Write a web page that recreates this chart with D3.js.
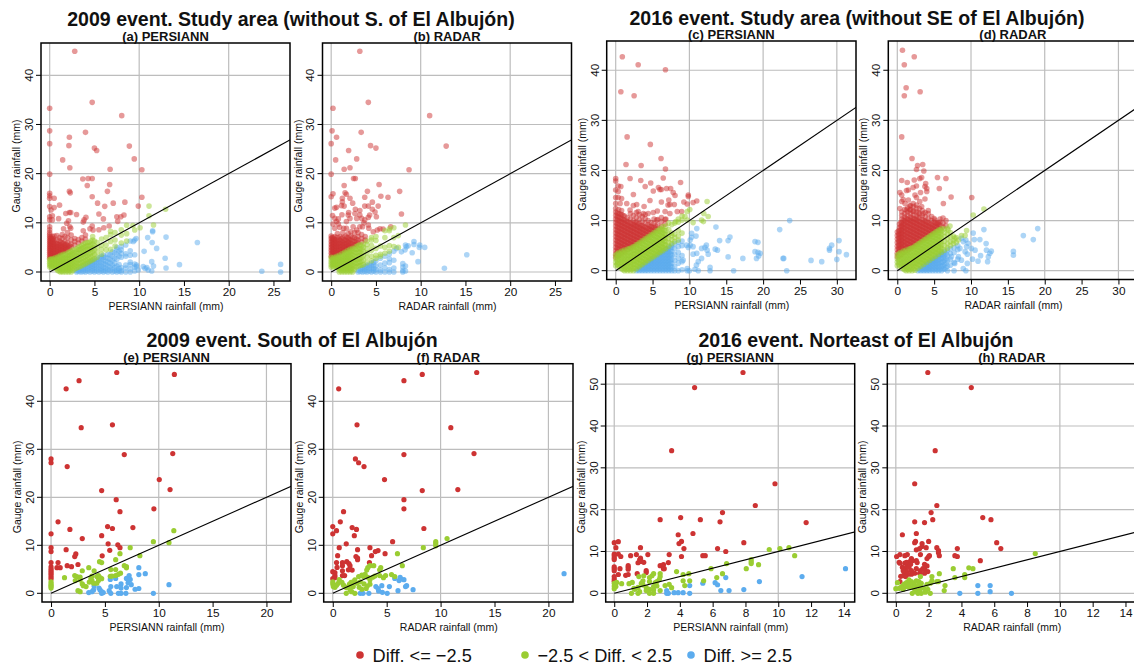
<!DOCTYPE html>
<html><head><meta charset="utf-8">
<script src="https://cdn.jsdelivr.net/npm/d3@7/dist/d3.min.js"></script>
<style>html,body{margin:0;padding:0;background:#fff;overflow:hidden}svg{display:block}text{font-family:"Liberation Sans",Arial,sans-serif;fill:#111}</style>
</head><body><svg id="c" width="1134" height="668"></svg>
<script>
// Every row is [x, y, y, ...]: one estimated x reading and the gauge readings seen at it.
const aRed=[[2.8,44.9],[4.75,34.5],[0,33.3],[8.05,31.8],[0,28.7],[4,28.4],[2.2,27.4],[2.15,25.7],[8.9,25.6],[5,25.2],[5.25,24.7],[0,26.1],[1.45,22.8],[9.45,23],[2.25,21.2],[6.75,20.9],[10.3,20.8],[0,19.9],[3.7,18.9],[4.3,19],[4.75,19],[6.7,17.8],[4.2,17.6],[2.2,16.4],[2.3,16.1],[6.45,16.4],[4.75,15.3],[10.3,15.2],[.5,15],[0,16,15.5,15,13.3,11.25,10.6],[7.1,14],[5.35,14],[8.4,14.2],[1.1,13.6],[6.15,13.35],[9.9,13.4],[.5,13.1],[.15,12.6],[2.2,12.1],[2.35,12.1,8.9],[5.5,11.8],[1.8,11.9],[3,11.7],[4.05,11.1],[3.85,10.6],[8.3,11.6],[7.95,11.25],[7.5,11.25],[6,10.8],[1,10.85],[.3,11.45,10.6],[2.1,10.4],[1.9,9.9],[7.6,10.3],[3.75,10.15,8.4],[6.65,9.35],[1.55,8.8],[2.25,9.2],[4.75,9.35],[6.05,9],[5.5,8.6],[4.5,8.8],[4.85,8.55],
[0,2.8,3.2,3.6,4,4.4,4.8,5.2,5.6,6,6.4,6.8,7.2,7.6,8,8.6,9.2],[.1,3,3.5,4,4.5,5,5.5,6,6.5,7],[.3,3,3.6,4.2,4.8,5.4,6,6.6,7.2],[.5,3.2,3.8,4.4,5,5.6,6.4,7.3],[.8,3.5,4,4.6,5.2,5.8,6.5,7.4],[1.1,3.8,4.3,4.9,5.6,6.3,7],[1.4,4.1,4.6,5.2,5.9,6.8,7.6],[1.7,4.4,5,5.5,6.2,7.2],[2,4.7,5.3,6,7,8],[2.4,5.1,5.7,6.5,7.5],[2.8,5.5,6.2,6.8],[3.2,5.9,6.6],[3.6,6.3,7],[4,6.7,7.5],
[.2,2.9,3.3,3.8,4.3,4.8,5.3,5.8,6.3,6.8],[.4,3.2,3.7,4.2,4.7,5.2,5.7,6.2,6.8],[.65,3.3,3.8,4.3,4.8,5.3,5.8],[.95,3.6,4.1,4.6,5.1,5.6],[1.25,3.9,4.4,4.9,5.4,6],[1.55,4.2,4.7,5.2,5.8],[1.85,4.5,5,5.6],[2.2,4.9,5.4]];
const aGreen=[[0,1,1.4,1.8,2.2,2.6],[.3,.9,1.3,1.8,2.3,2.7],[.6,.9,1.4,1.9,2.4,2.9],[.9,.3,.9,1.5,2,2.5,3.1],[1.2,0,.5,1,1.6,2.2,2.8,3.4],[1.5,0,.5,1.1,1.7,2.3,2.9,3.6],[1.8,0,.6,1.2,1.8,2.4,3,3.7],[2.1,0,.5,1,1.6,2.2,2.8,3.4,4],[2.4,0,.6,1.2,1.8,2.4,3,3.6,4.2],[2.8,.6,1.2,1.8,2.4,3,3.6,4.3],[3.2,1,1.7,2.4,3.1,3.8,4.5,5],[3.6,1.3,2,2.7,3.4,4.1,4.8,5.4],[4,1.7,2.4,3.1,3.8,4.5,5.2,5.9],[4.4,2.1,2.9,3.7,4.5,5.3,6],[4.8,2.5,3.3,4.1,4.9,5.7,6.5,7.2],[5.3,3,4,5,6],[5.8,3.6,4.6,5.5,6.7],[6.3,4.5,5.5,7],[6.8,4.6,6.2,7.6,8.3],[7.3,5.3,6.5,8],[8,5.9,7.5,8.6],[8.6,6.3,7.8,9.5],[11.1,13.4,11.45],[12.95,12.75],[11.6,9.55],[9.3,9.45],[10.1,9],[9.5,8.55],
[.15,1.1,1.6,2.1,2.6],[.45,1,1.5,2,2.6],[.75,.6,1.2,1.7,2.2,2.7],[1.05,.2,.7,1.2,1.8,2.4,3],[1.35,.2,.8,1.4,2,2.6,3.2],[1.65,.3,.9,1.5,2.1,2.7,3.4],[1.95,.3,.9,1.5,2.1,2.7,3.4],[2.25,.3,.9,1.5,2.1,2.7,3.4,4],[2.6,.3,.9,1.5,2.1,2.7,3.3,3.9,4.5],[3,.8,1.4,2,2.7,3.3,4,4.7],[3.4,1.1,1.8,2.5,3.2,3.9,4.6,5.2],[3.8,1.5,2.2,2.9,3.6,4.3,5,5.7],[4.2,1.9,2.6,3.3,4,4.7,5.4,6],[4.6,2.3,3.1,3.9,4.7,5.5,6.3],[5,2.7,3.6,4.5,5.4,6.3]];
const aBlue=[[3,0,.3],[3.5,0,.4,.8],[4,0,.4,.9,1.4],[4.5,0,.5,1,1.5,1.9],[5,0,.4,.9,1.4,2,2.4],[5.5,0,.5,1.1,1.7,2.3,2.9],[6,0,.4,1,1.7,2.4,3,3.4],[6.5,0,.5,1.2,2,2.8,3.6],[7,0,.6,1.4,2.3,3.2,4.1],[7.5,0,.4,1.2,2.6,3.6,4.6,5],[8,0,.3,.9,3,3.8,4.5,5.2],[8.5,0,.8,1.4,3.2,3.7,5.5],[9,0,.6,1.5,2,3.4,4.3,6.3],[9.5,.2,1,1.6,3.5,6.5],[16.5,6],[23.7,.15],[25.8,1.55,0],[13,7.1,.8],[10.95,7],[11.45,6],[11.5,8.4,8.2],[11.95,4.8],[10.55,4.2],[12.9,2.8],[14.5,1.5],[11.4,2.1,.2],[11.6,1.2],[9.7,1.4,1.1],[10.45,1.1],[10.85,.9],[11,.4],[9.9,.4],[9.35,6.2],[9.65,6.8],[10.65,.7],
[3.25,.1,.5],[3.75,.1,.6,1.1],[4.25,.2,.7,1.2,1.7],[4.75,.2,.7,1.2,1.7,2.2],[5.25,.2,.8,1.4,2,2.6],[5.75,.2,.7,1.3,2,2.7,3.2],[6.25,.2,.8,1.5,2.2,3],[6.75,.3,1,1.8,2.6,3.5],[7.25,.2,.9,1.8,2.8,3.9],[7.75,.2,.7,1.5,3.2,4.2]];

const bRed=[[3.2,44.9],[4.15,34.5],[.2,33.3],[11,31.8],[.1,28.7],[3.35,28.4],[.6,27.4,13.15,10.25],[0,26.1,19.9,15.3],[4.4,25.7],[12.85,25.6],[5,25.2],[1.95,24.7],[.5,22.8],[2.85,23],[2.1,21.2,15,10.9],[1.45,20.9,17.6,13.4],[8.7,20.8],[2.5,19],[2.7,19,12.75],[5.35,17.8],[7.65,16.4],[4.05,16.4],[.2,15.9,9.75],[1.55,16.1],[1.7,15.8,10.25,8.9],[1.25,15,14.3],[5.55,15.4],[6.35,15.2],[3.75,15.2,13.4,10.6],[4.6,14.2,12.75],[2.4,14],[4.15,13.4,11.1,9.55],[5.25,13.4],[1.15,13.5],[.4,13,10.9,8.9],[3.2,12.5,11.6,9.2],[4.9,12.2],[1.95,12.1],[2.65,11.9],[7.85,11.8],[.15,11.5],[1.2,11.65],[1.9,11.6],[4.3,11.6],[5.05,11.25],[2.85,10.9,8.55],[3.4,10.9],[.8,10.8,9.75],[3.65,10],[.95,9.1],[1.4,8.9],[2.45,9.2],[3.5,9.2],[6.65,9.2],[5.45,8.8],[5.8,8.75],[4.7,8.2],[4.2,8.9],[5.15,8.55],
[0,3.2,3.8,4.4,5,5.6,6.2,6.8,7.3],[.2,3.4,4,4.6,5.2,5.8,6.4,7],[.4,3.6,4.2,4.8,5.4,6,6.6,7.2],[.7,3.9,4.5,5.1,5.7,6.3,7,7.8],[1,4,4.6,5.2,5.8,6.4,7.2],[1.3,4.3,4.9,5.5,6.1,7,8],[1.6,4.6,5.2,5.8,6.5,7.3],[1.9,4.9,5.5,6.1,6.9,7.8],[2.2,5.2,5.8,6.5,7.3,8.2],[2.6,5.6,6.2,7,8],[3,5.9,6.5,7.2,8],[3.4,6.1,6.8,7.6],[3.8,6.5,7.2],
[.1,3,3.5,4,4.5,5,5.5,6,6.5,7],[.3,3.2,3.7,4.2,4.7,5.2,5.7,6.2,6.7],[.55,3.4,3.9,4.4,4.9,5.4,5.9,6.5],[.85,3.7,4.2,4.7,5.3,5.9,6.6],[1.15,4,4.5,5,5.6,6.2,6.8],[1.45,4.3,4.8,5.3,5.9,6.5],[1.75,4.6,5.1,5.7,6.3,7],[2.05,4.9,5.4,6,6.6],[2.4,5.2,5.7,6.3,7],[2.8,5.6,6.1,6.7]];
const bGreen=[[0,1,1.5,2,2.5,3],[.3,1,1.5,2,2.5,3],[.6,1,1.5,2,2.6,3.2],[.9,0,.5,1,1.6,2.2,2.8,3.4],[1.2,0,.6,1.2,1.8,2.4,3,3.7],[1.5,0,.5,1.1,1.7,2.3,2.9,3.5,4],[1.8,0,.6,1.2,1.8,2.4,3,3.6,4.3],[2.1,0,.5,1.1,1.8,2.5,3.2,3.9,4.6],[2.4,0,.7,1.4,2.1,2.8,3.5,4.2,4.8],[2.8,1,1.7,2.4,3.1,3.8,4.5,5.2],[3.2,1.3,2,2.7,3.4,4.1,4.8,5.6],[3.6,1.5,2.4,3.3,4.2,5,5.7],[4,1.9,3,3.9,4.7,5.6,6.3],[4.5,2.3,3.2,4.4,5.4,6.5,7],[5,2.8,3.4,4.8,6.4,7.2],[5.5,3.2,3.6,5.3],[6,3.8,5,7,8.4],[6.5,4.2,5.4,8.8,8.4],[7,5.2,7,9],[7.5,7.4,5],[8.3,9.55],
[.15,1.2,1.7,2.2,2.7],[.45,1.2,1.7,2.2,2.8],[.75,.8,1.3,1.8,2.4,3],[1.05,.3,.8,1.3,1.9,2.5,3.1],[1.35,.3,.9,1.5,2.1,2.7,3.3],[1.65,.3,.8,1.4,2,2.6,3.2,3.8],[1.95,.3,.9,1.5,2.1,2.7,3.3,4],[2.25,.3,.8,1.5,2.2,2.9,3.6,4.3],[2.6,.5,1.2,1.9,2.6,3.3,4,4.7],[3,1.2,1.9,2.6,3.3,4,4.7,5.4],[3.4,1.4,2.2,3,3.8,4.6,5.3]];
const bBlue=[[3,0,.4],[3.5,0,.5,.9],[4,0,.4,1,1.4],[4.5,0,.6,1.2,1.8],[5,0,.5,1.2,2.3],[5.5,0,.4,1.4,2.8],[6,0,.8,1.8,3.2],[6.5,0,.5,1.9,2.7,3.7],[7,0,.8,2.4,4.2],[8,0,.3,1,1.7],[8.3,.2,1.2,5.5],[15.15,3.5],[12.65,.75],[10.45,5],[9.25,6.2,5.6],[9.9,5.5],[9.85,5],[8.4,5.15],[8.6,5.35],[7.85,4.1],[8.25,4.5],[9.05,3.9],[9.7,2.1],[7.3,4.8],
[3.25,.1,.6],[3.75,.1,.6,1.1],[4.25,.2,.8,1.4],[4.75,.2,.7,1.4,2]];

const cRed=[[.9,42.7],[3.05,41.1],[6.75,40.1,20.3],[.7,35.7,16.8],[2.5,34.9],[1.55,26.7],[4.7,25.2],[6.15,22.4],[1.4,21.2],[3.45,21],[0,18.4,17.9,16.1,14.6,13.4],[6.45,18.5],[1.95,18.4,12.1],[3.4,18],[8.8,17.6],[4.75,17.5],[4,16.8],[.35,16.9,15.8,14.6],[5.8,16.6],[6,16.2],[6.9,16.4],[7.45,16.4],[5.1,15.9,11.6],[6.2,16.2,13.7],[7.8,15.6],[8.05,15],[2.4,15.2,13],[9.85,15.1,14.8],[.8,14.4],[7.2,14.1],[4.65,14],[9.25,13.7],[9.7,13.3],[11,13.9],[10.5,13.6],[7.35,13.2,11.4],[7.95,13.2],[1.5,13.4],[2.85,13.2],[7.1,13.1],[.6,13.4],[3.85,12.8],[8.35,11.8],[8.95,11.8],[6.7,11.8],[5.65,11.9],[3.05,11.8],[3.75,11.4],[4.4,11.4],[5.55,10.1],[6.8,10.3],
[0,2.7,3.3,4,4.7,5.4,6.1,6.8,7.5,8.2,8.9,9.6,10.3,11,11.7,12.4],[.4,3,3.7,4.4,5.1,5.8,6.5,7.2,7.9,8.6,9.3,10,10.7,11.4,12.2],[.8,3.4,4.1,4.8,5.5,6.2,6.9,7.6,8.3,9,9.7,10.4,11.2,12],[1.2,3.8,4.5,5.2,5.9,6.6,7.3,8,8.7,9.4,10.1,10.9],[1.6,4.2,4.9,5.6,6.3,7,7.7,8.4,9.1,9.8,10.6],[2,4.6,5.3,6,6.7,7.4,8.1,8.8,9.5,10.3,11.4],[2.4,5,5.7,6.4,7.1,7.8,8.5,9.2,10,11],[2.8,5.4,6.1,6.8,7.5,8.2,8.9,9.7,10.6,11.6],[3.2,5.8,6.5,7.2,7.9,8.6,9.4,10.2,11.2],[3.6,6.2,6.9,7.6,8.3,9,9.8,10.8],[4,6.6,7.3,8,8.7,9.5,10.4,11.2],[4.4,7,7.7,8.4,9.2,10],[4.8,7.4,8.1,8.8,9.6],[5.2,7.8,8.6,9.4,10.3],[5.7,8.3,9.1,10.2],[6.2,8.8,9.8,10.6],[6.7,9.3,10.2],
[.2,3.1,3.8,4.5,5.2,5.9,6.6,7.3,8,8.7,9.4,10.1,10.8,11.5],[.6,3.5,4.2,4.9,5.6,6.3,7,7.7,8.4,9.1,9.8,10.5,11.3],[1,3.9,4.6,5.3,6,6.7,7.4,8.1,8.8,9.5,10.2,11],[1.4,4.3,5,5.7,6.4,7.1,7.8,8.5,9.2,9.9],[1.8,4.7,5.4,6.1,6.8,7.5,8.2,8.9,9.6],[2.2,5.1,5.8,6.5,7.2,7.9,8.6,9.3],[2.6,5.5,6.2,6.9,7.6,8.3,9,9.6],[3,5.9,6.6,7.3,8,8.7,9.3],[3.4,6.3,7,7.7,8.4,9],[3.8,6.7,7.4,8.1,8.8],[4.2,7.1,7.8,8.5],[4.6,7.5,8.2,8.9],[5,7.9,8.6],[5.4,8.3,8.9]];
const cGreen=[[0,1,1.7,2.4,3.1],[.4,.9,1.6,2.3,3,3.6],[.8,.4,1.1,1.8,2.5,3.2,3.9],[1.2,0,.6,1.3,2,2.7,3.4,4.1],[1.6,0,.7,1.4,2.1,2.8,3.5,4.3],[2,0,.7,1.4,2.1,2.8,3.5,4.5],[2.4,0,.6,1.3,2,2.7,3.4,4.1,4.8],[2.8,.4,1.1,1.8,2.5,3.2,3.9,4.6,5.2],[3.2,.8,1.5,2.2,2.9,3.6,4.3,5,5.6],[3.6,1.2,1.9,2.6,3.3,4,4.7,5.4,6],[4,1.6,2.3,3,3.7,4.4,5.1,5.8,6.4],[4.4,2,2.7,3.4,4.1,4.8,5.5,6.2,6.8],[4.8,2.4,3.1,3.8,4.5,5.2,5.9,6.6,7.2],[5.2,2.8,3.5,4.2,4.9,5.6,6.3,7,7.6],[5.6,3.2,3.9,4.6,5.3,6,6.7,7.4,8],[6,3.6,4.3,5,5.7,6.4,7.1,7.8,8.4],[6.4,4,4.7,5.4,6.1,6.8,7.5,8.2,8.8],[6.8,4.4,5.1,5.8,6.5,7.2,8,8.9],[7.2,4.9,5.6,6.4,7.2,8.2,9.5],[7.6,5.4,6.2,7,7.5,9.2],[8,5.8,6.6,7.3,9.5],[8.5,6.1,6.9,8,9.7,10.3],[9,7.5,10.1,10.9],[12.4,13.8],[12.55,10.8],[11.95,11.4],[11.65,10.1],[11.9,9.8],[10.05,12.2],[9.7,11.8,10.1],[10.5,9.6],[9.4,10.8],[8.15,9.8],
[.2,1.3,2,2.7,3.3],[.6,.7,1.4,2.1,2.8,3.4],[1,.2,.9,1.6,2.3,3,3.7],[1.4,.3,1,1.7,2.4,3.1,3.8],[1.8,.3,1,1.7,2.4,3.1,3.8,4.3],[2.2,.3,1,1.7,2.4,3.1,3.8,4.5],[2.6,.6,1.3,2,2.7,3.4,4.1,4.8],[3,.9,1.6,2.3,3,3.7,4.4,5.2],[3.4,1.3,2,2.7,3.4,4.1,4.8,5.5],[3.8,1.7,2.4,3.1,3.8,4.5,5.2,5.9],[4.2,2.1,2.8,3.5,4.2,4.9,5.6,6.3],[4.6,2.5,3.2,3.9,4.6,5.3,6,6.7],[5,2.9,3.6,4.3,5,5.7,6.4,7.1],[5.4,3.3,4,4.7,5.4,6.1,6.8,7.5],[5.8,3.7,4.4,5.1,5.8,6.5,7.2,7.9],[6.2,4.1,4.8,5.5,6.2,6.9,7.6,8.2],[6.6,4.5,5.2,5.9,6.6,7.3,8]];
const cBlue=[[2.8,0],[3.2,0,.5],[3.6,0,.5,1],[4,0,.5,1,1.4],[4.4,0,.5,1,1.5,1.8],[4.8,0,.6,1.2,1.8,2.2],[5.2,0,.6,1.2,1.8,2.4,2.7],[5.6,0,.6,1.2,1.8,2.4,3],[6,0,.6,1.2,1.8,2.4,3,3.5],[6.4,0,.6,1.2,1.8,2.4,3,3.6,3.9],[6.8,0,.6,1.2,1.8,2.4,3,3.6,4.2],[7.2,0,.6,1.2,1.8,2.4,3,3.6,4.2,4.7],[7.6,0,.7,1.5,2.3,3.1,3.9,4.7,5.1],[8,0,.8,2,3.2,4.4,5.4],[8.5,0,1.5,2.5,3.6,4.8,5.7],[9,.2,1.8,3,5,5.9],[23.6,10],[22.25,8.2],[13.6,8.7],[15.5,6.7],[15.25,6,2.75],[14.1,6],[30.3,6,3.8],[29.3,5.1],[29,4.45,4.1],[31.3,3.2],[30,2.25],[26.5,2.05],[27.95,1.8],[23.2,0],[22.7,2.45],[22.8,2.45],[18.9,5.8,3.8],[19.3,5.65,3.65],[19.6,3.45],[19.4,2.95],[19.1,2.45],[17.25,2.45],[16,0],[13.5,4.3],[13.8,4.1],[12.8,.65,0],[11.2,0,1.8],[10.75,.3],[11,8.4,3.45],[10.3,7.45,6.65],[10.9,6.9],[10.1,6.1,5.1],[12.3,5.1],[12.1,4.65],[11.65,4.45,2.45],[12.4,4.1],[12.55,3.3],[10.95,1.1],[10.5,3.3,4.8],[9.6,5.1],[9.85,4.65],[9.7,.45,0],[10,0],[9.15,2.1],
[3,.2],[3.4,.2,.7],[3.8,.2,.7,1.2],[4.2,.2,.7,1.2,1.6],[4.6,.3,.9,1.5,2],[5,.3,.9,1.5,2.1,2.4],[5.4,.3,.9,1.5,2.1,2.7],[5.8,.3,.9,1.5,2.1,2.7,3.2],[6.2,.3,.9,1.5,2.1,2.7,3.3,3.6],[6.6,.3,.9,1.5,2.1,2.7,3.3,3.9],[7,.3,.9,1.5,2.1,2.7,3.3,3.9,4.4],[7.4,.3,.9,1.5,2.1,2.7,3.3,3.9,4.6]];

const dRed=[[.7,44],[2.3,42.7,18.1],[.95,41.1,34.9],[1.2,36.5],[3.1,35.7],[.6,26.7,18,15.1,13.8],[2,22.4],[3.45,21.2],[2.75,21],[2.6,20.2,16.9,14.6,13.1],[3.6,19.9],[5.45,18.6],[6.6,18.4],[3.05,18.4,13.8],[3.3,18.6,12.8],[1.35,17.6],[3.85,17.4],[3.75,16.8,14.3],[2.15,16.6,13.4,11.8],[1.5,16.1,14.1],[1.25,16,12.1],[5.7,16.4],[4,16.4,15.8],[3.15,15.6],[.35,15.6,12.4],[2.4,15.1],[7.3,14.7],[10.1,14.6],[.8,14.2],[6.25,13.4],[1.05,13.4],[1.7,12.9,12.1],[4.2,12],[2.85,11.6],[3.5,11.4],[4.65,10.8],[5.8,10.3],[5.1,10.1],[5.55,9.6],
[0,2.8,3.5,4.2,4.9,5.6,6.3,7,7.7],[.3,3,3.7,4.4,5.1,5.8,6.5,7.2,7.9,8.6,9.3],[.6,3.3,4,4.7,5.4,6.1,6.8,7.5,8.2,8.9,9.6,10.3,11,11.7],[1,3.7,4.4,5.1,5.8,6.5,7.2,7.9,8.6,9.3,10,10.7,11.4,12.2],[1.4,4,4.7,5.4,6.1,6.8,7.5,8.2,8.9,9.6,10.3,11,11.7,12.5],[1.8,4.4,5.1,5.8,6.5,7.2,7.9,8.6,9.3,10,10.7,11.4,12.2,13],[2.2,4.8,5.5,6.2,6.9,7.6,8.3,9,9.7,10.4,11.1,11.9,12.8],[2.6,5.2,5.9,6.6,7.3,8,8.7,9.4,10.1,10.9,11.7,12.5],[3,5.6,6.3,7,7.7,8.4,9.1,9.8,10.6,11.4,12.4],[3.4,6,6.7,7.4,8.1,8.8,9.5,10.2,11,12],[3.8,6.4,7.1,7.8,8.5,9.2,9.9,10.7,11.6],[4.2,6.8,7.5,8.2,8.9,9.6,10.4,11.4],[4.6,7.2,7.9,8.6,9.3,10],[5,7.6,8.3,9,9.7,10.4],[5.4,8,8.7,9.4],[5.8,8.4,9.1,9.7],[6.2,8.7,9.5,10.5],[6.6,9,10],
[.2,3.1,3.8,4.5,5.2,5.9,6.6,7.3,8],[.5,3.3,4,4.7,5.4,6.1,6.8,7.5,8.2,8.9,9.6],[.8,3.7,4.4,5.1,5.8,6.5,7.2,7.9,8.6,9.3,10],[1.2,4.1,4.8,5.5,6.2,6.9,7.6,8.3,9,9.7,10.4],[1.6,4.5,5.2,5.9,6.6,7.3,8,8.7,9.4,10.1],[2,4.9,5.6,6.3,7,7.7,8.4,9.1,9.8,10.5],[2.4,5.3,6,6.7,7.4,8.1,8.8,9.5,10.2],[2.8,5.7,6.4,7.1,7.8,8.5,9.2,9.9,10.6],[3.2,6.1,6.8,7.5,8.2,8.9,9.6],[3.6,6.5,7.2,7.9,8.6,9.3,10],[4,6.9,7.6,8.3,9,9.7],[4.4,7.3,8,8.7,9.4],[4.8,7.7,8.4,9],[5.2,8.1,8.8,9.5],[5.6,8.5,9.2]];
const dGreen=[[0,1,1.7,2.4,3.1],[.4,.9,1.6,2.3,3,3.6],[.8,.4,1.1,1.8,2.5,3.2,3.9],[1.2,0,.6,1.3,2,2.7,3.4,4.1],[1.6,0,.7,1.4,2.1,2.8,3.5,4.3],[2,0,.7,1.4,2.1,2.8,3.5,4.5],[2.4,.1,.8,1.5,2.2,2.9,3.6,4.3,4.9],[2.8,.5,1.2,1.9,2.6,3.3,4,4.7,5.3],[3.2,.9,1.6,2.3,3,3.7,4.4,5.1,5.7],[3.6,1.3,2,2.7,3.4,4.1,4.8,5.5,6.1],[4,1.7,2.4,3.1,3.8,4.5,5.2,5.9,6.5],[4.4,2.1,2.8,3.5,4.2,4.9,5.6,6.3,6.9],[4.8,2.5,3.2,3.9,4.6,5.3,6,6.7,7.3],[5.2,2.9,3.6,4.3,5,5.7,6.4,7.1,7.7],[5.6,3.3,4,4.7,5.4,6.1,6.8,7.5,8.1],[6,3.7,4.4,5.1,5.8,6.5,7.2,7.9,8.4],[6.4,4.1,5,5.9,6.8,7.6,8.3],[6.8,4.5,5.4,6.4,7.3,8.4],[7.2,5,5.8,6.8,7.6],[7.6,5.4,6,6.9],[8,5.6,6.6],[11.75,12.3],[10.3,11.1],[7.15,8.9],[6.9,8.1],[9.4,8],[9.2,7],[8.7,7],[8.3,6.1],[7.8,6.5],
[.2,1.3,2,2.7,3.3],[.6,.7,1.4,2.1,2.8,3.4],[1,.2,.9,1.6,2.3,3,3.7],[1.4,.3,1,1.7,2.4,3.1,3.8],[1.8,.3,1,1.7,2.4,3.1,3.8,4.4],[2.2,.4,1.1,1.8,2.5,3.2,3.9,4.6],[2.6,.8,1.5,2.2,2.9,3.6,4.3,5],[3,1.2,1.9,2.6,3.3,4,4.7,5.4],[3.4,1.6,2.3,3,3.7,4.4,5.1,5.8],[3.8,2,2.7,3.4,4.1,4.8,5.5,6.2],[4.2,2.4,3.1,3.8,4.5,5.2,5.9,6.6],[4.6,2.8,3.5,4.2,4.9,5.6,6.3,7],[5,3.2,3.9,4.6,5.3,6,6.7,7.4],[5.4,3.6,4.3,5,5.7,6.4,7.1,7.8],[5.8,4,4.7,5.4,6.1,6.8,7.5,8.1]];
const dBlue=[[2.8,0],[3.2,0,.5],[3.6,0,.5,1],[4,0,.5,1,1.4],[4.4,0,.5,1,1.5,1.8],[4.8,0,.6,1.2,1.8,2.2],[5.2,0,.6,1.2,1.8,2.4,2.7],[5.6,0,.7,1.4,2.1,2.8,3.1],[6,0,.8,1.6,2.4,3.2,3.5],[6.4,.3,1.2,2.1,3,3.8],[6.8,0,.9,2,3,4.1],[7.2,1.1,2.3,3.4,4.4],[7.7,0,1.6,3.6,4.6],[8.2,2.3,4.2,5],[19.05,8.4],[17.1,7],[18.45,6.2],[15.75,3.85,3.1],[11.75,8.2],[10.3,7.5],[10.45,6.2],[11.2,6.2],[12.05,5.4],[12.1,4.1],[12.75,3.9],[12.55,3.45],[12.35,2.8],[12.25,1.8],[11.3,3],[10.95,1.9],[10.2,2.3],[10.55,4.1],[10.05,4.45],[9.6,5.45],[9.3,6.1,0],[8.7,6.45,2.1],[8.95,5.8,.45],[9.4,4.8],[9.2,3.8],[9.5,3.3,1.45],[8.5,4.45],[8.3,2.8],[7.8,1.45],[7.35,2.8],
[3,.2],[3.4,.2,.7],[3.8,.2,.7,1.2],[4.2,.2,.7,1.2,1.6],[4.6,.3,.9,1.5,2],[5,.3,.9,1.5,2.1,2.4],[5.4,.3,.9,1.5,2.1,2.7],[5.8,.3,1,1.7,2.4,3],[6.2,.4,1,1.8,2.6,3.3],[6.6,.6,1.5,2.4,3.4]];

const eRed=[[0,28,27.2,12.4,9.5,8.7,6.4,5.5,5,4.6,4.2,3.8,3.4,3],[1.4,42.6,9.1],[2.6,44.3],[6.1,46],[11.45,45.6],[2.8,34.5],[5.7,35.1,13.5],[6.8,28.9],[11.3,29.1],[1.5,26.4,5.75],[10.05,23.7],[11.05,21.6],[4.7,21.4,12],[6.05,19.5],[9.55,17.6],[6.4,17,9.5],[.65,14.9,6.4],[5.25,13.9],[7.6,13.7],[1.75,13.3],[2.9,11.4],[5.3,10.3],[6.2,10.1],[5.45,8.95],[2.3,8.2],[2.2,7.65],[4.75,7.8],[2.5,6],[1.9,5.55],[.55,5.35],[.85,5.35]];
const eGreen=[[0,2.4,2,1.7,1.4,1.1],[10.95,10.55],[11.4,13.05],[9.5,10.75],[7.35,9.5],[6.4,8.25],[8.25,7.85],[6,7,4.95,3.7],[4.5,6.6],[4.7,6.4,3.05],[6.8,5.75],[7,5.55,5.3],[5.55,4.95],[3.5,5.35],[2.9,4.7,1.95],[4,4.7],[1.25,3.25],[2.2,3.7],[2.4,3.5],[2.7,3.4,2.8,.35],[2.25,2.65],[3.8,3.6,2.65],[3.7,3.1],[4.25,3.5,2.1],[4.4,3.7,2.65],[4.55,3.25],[5.5,3.55],[5.65,3.6],[6.25,3.95],[6.45,4.2],[3.55,2.35],[3.95,2.1],[3,1.6],[3.25,1.4],[2.5,.55]];
const eBlue=[[8.15,5.35,3.9,1],[8.75,4.1],[7.25,3.7],[7,3.1,1.2],[7.35,2.9],[6,3.1],[5.5,2.9],[10.95,1.8],[7.45,1.8],[7.15,2.2],[6.5,1.95,1.1,0],[5.55,1.4,0],[6.1,1.4],[7.8,.85],[4,1.5],[4.45,1.1],[3.95,.7],[3.5,.15],[3.8,.35],[4.55,.7],[5.4,.55],[4.7,0,.35],[4.85,.15],[6.25,0],[6.95,0],[9.5,0]];

const fRed=[[13.35,46],[8.3,45.6,21.4],[6.6,44.3,28.9,19.5,17.6],[.55,42.6],[2.25,35.1],[10.95,34.5],[13.1,29.1],[2.1,28],[2.4,27.2],[2.9,26.4],[4.8,23.7],[11.6,21.6],[1,17],[.7,14.9],[0,13.9,12.4,4.5,3.05],[1.8,13.7,4.85],[2.2,13.3],[.35,13.05,6.4],[8.45,13.5],[2,12],[5.55,10.75],[1.25,10.3],[.6,9.5],[3.45,9.5],[2.3,9.1,7.35,7],[4.2,8.9],[3.95,8.7],[4.85,8.25],[.45,7.85],[3.6,7.85],[2.15,7.65],[.9,6.4,5.75,4.7,3.7],[1.3,6.6],[1.5,6.2],[3.4,6.4],[.4,5.4],[1.6,5.75,5],[1.45,4.9],[.2,4.3,3.7,3.25],[1.1,3.7]];
const fGreen=[[10.6,11.4],[9.55,10.75,10.4,9.9],[8.4,9.5],[6,8.25],[6.45,5.75],[3.45,5.75,2.8,1.9],[3.8,5.75],[3.25,5.35,3.35],[3.15,4.85],[4.45,5.35],[4.35,4.9,3.7],[5.45,3.9],[5.75,3.5],[4.9,3.7],[4.7,3.25],[.6,2.85],[0,2.4,1.95],[.05,1.4],[.2,1.25],[.5,2.1],[.35,1.7],[.85,2.3],[1,1.7],[1.25,1.2,0],[1.55,1.9],[1.9,2.4,1.4],[2.4,3.5],[2.7,3.8,.85],[3,3.95],[3.9,3.6],[2.25,2.1],[2.55,2.4],[2.9,1.95],[3.2,1.5],[2.45,1.25],[1.6,.7],[1.75,.35],[2.05,0,2.8],[3.1,1],[2.85,3.5],[1.45,1.4],[1.7,2.3],[3.7,3.35]];
const fBlue=[[21.45,4.1],[5.75,3.1],[6.25,3.3],[6.3,3],[6.15,2.65],[6.6,2.85],[4,1.4],[4.2,1],[4.55,1.6],[5.25,1.4],[6.85,1.6],[6.75,1.4],[7.45,.75],[6.05,.55],[4.25,.5],[4.6,.2],[5.05,0],[3.35,0],[2.55,0],[2.8,0]];

const gRed=[[7.85,52.8],[4.9,49.2],[3.5,34.1],[9.8,26.2],[8.6,21],[6.6,19.3],[2.8,17.6,6.6],[4.05,18.1],[5.25,17.6],[6.45,17.1],[11.7,16.9],[4.8,14.3],[3.9,14],[4.1,12.4,8.8],[3.95,11.9],[7.9,12.1],[0,12.1,9.4,9,8.5,8.1,6.3,5.9,5.4,4,3.4,2.9],[.25,12.35,9.4,4.5],[.1,10.9],[1.6,10.9,8.4],[4.25,10.7],[6.3,10.7],[6.8,10],[.4,8.8],[1,9],[1.35,9.25],[2.05,9.25],[3.35,9.25],[5.4,9],[5.55,9],[1.45,7.3],[1.65,7.6],[1.8,7.4],[1.55,8],[3.3,7.35],[3,6.85,5.9],[.85,6.6,6.2,5.75,4.5],[.35,5.9],[1.95,5.4,5],[1.4,4.7],[.7,4.3],[3.05,5.9],[.05,2.55]];
const gGreen=[[0,2.4,1.75,1.1],[.15,2.6],[.1,1.6],[.45,2.3],[9.45,10.45],[10.1,10.7],[10.65,10.9],[11,9],[6.85,7.1],[8.35,8.05,7.55,7.1],[8.8,6.85],[8.05,5.9],[5.9,5.9],[3.8,5.2],[6.6,4.7],[6.25,3.75],[4.55,4.7],[4.2,4.5,3],[4.6,3],[4.3,1.85],[5.45,3],[1.5,4],[1.8,4.2],[.9,2.3],[1.1,2.6],[2.4,4.7,.8,0,1.6],[2.3,4.2],[2.15,3.75,2.8,.95,0],[2.8,4.7,4,.65],[2.75,3.35],[2.6,2.8,1.75],[2.5,2.55],[1.75,3,2],[1.65,2.4],[1.45,1.4,0],[1.25,.95],[1.05,0],[1.55,.4],[1.95,1.4,.65],[3.1,1.85],[3.35,2.15],[3.5,1.35],[1.2,1.2]];
const gBlue=[[14.1,5.9],[11.45,4],[6.8,3.75],[8.85,2.8],[5.4,2.4],[6.15,2.55],[6.3,2.05],[4.6,1.85,0],[6.5,.65],[7,.65],[7.9,.9],[3.2,.65,0],[3.3,0],[3.65,.15],[3.9,.15],[4.2,.15]];

const hRed=[[1.95,52.8,5.2],[4.6,49.2],[2.4,34.1],[1.15,26.2,17.1,4.8],[2.5,21,10.9],[2.15,19.3],[2.25,17.6],[1.75,16.9,6.95,5.9,4.8],[5.3,18.1],[5.8,17.6],[.4,14,6.2],[1.25,14.3,10.4,7.8,5.9],[2,12.4,8.8],[1.2,12.4],[1.15,12.1],[6.15,12.1],[6.4,10.7],[3.75,10.7,8.8],[1.6,11.9,11.2],[1.85,10.9],[1.45,10.7,4.8],[2.6,10.2,9.7],[2.65,9],[3.6,9],[5.15,7.8],[1.5,9.25,5.4],[2.05,9],[1.9,8.3,6.55],[.05,8.8],[.25,9.25,7.2,2.8],[.55,9,7.2,5.9,4.8],[.7,9.25,6.55],[.2,7.4],[.95,8.3,5.4,4.55],[1,7.8],[.85,7.6],[.65,7.4,5.25],[1.3,7.35],[.9,6.95],[.8,6.2],[1.65,5.9],[.45,5.4,4.25],[.3,4.05],[.75,4.55],[.6,4]];
const hGreen=[[8.5,9.5],[3.5,5.9],[4.45,6.1],[4.7,5.9],[2.65,4.7],[4.2,4.5,3.75],[3.6,3.75],[2.2,4,3],[3,1.85],[2.95,.65],[2.5,2.8],[2.6,2.8],[2.1,2.4,0],[1.9,2.15],[1.5,4,1.6],[0,1.1],[.2,1.2],[.1,2.55],[.35,1.6],[.5,2.2],[.65,2.55],[.8,3.2,1.45],[.95,2.8],[1.1,2.4],[1.25,3,1.75,.4],[1.4,2.8,2],[1.55,2.4,0],[.6,1.6],[1.05,1.45],[1.7,1.2],[1.95,.95],[1,0],[1.35,0],[1.8,.25],[1.45,.8],[1.15,.95],[.85,2.2],[.45,.95]];
const hBlue=[[5,1.85,0],[5.75,1.85,.4],[3.9,0],[7.05,0]];

const seriesColors=["#CD3333","#9ACD32","#5CACEE"];
const legendLabels=["Diff. <= \u22122.5","\u22122.5 < Diff. < 2.5","Diff. >= 2.5"];
const titles=[["2009 event. Study area (without S. of El Albuj\u00f3n)",291,26],["2016 event. Study area (without SE of El Albuj\u00f3n)",857,25],["2009 event. South of El Albuj\u00f3n",292,347],["2016 event. Norteast of El Albuj\u00f3n",856,347]];
const xT25=d3.range(0,26,5),xT30=d3.range(0,31,5),xT20=d3.range(0,21,5),xT14=d3.range(0,15,2),yT40=d3.range(0,41,10),yT50=d3.range(0,51,10);
const top1={ydom:[-1.83,46.57],yr:[281,43],yt:yT40,xdom:[-.97,26.85],xt:xT25,a:.5,gx:[0,10,20]};
const top2={ydom:[-1.76,45.84],yr:[279.5,41],yt:yT40,xdom:[-1.22,32.6],xt:xT30,a:.5,gx:[0,10,20,30]};
const bot1={ydom:[-1.81,47.83],yr:[602,363.7],yt:yT40,xdom:[-.84,22.28],xt:xT20,a:1,gx:[0,10,20]};
const bot2={ydom:[-2.08,54.9],yr:[602,363.7],yt:yT50,xdom:[-.52,14.66],xt:xT14,a:1,gx:[0,10]};
const panels=[
 {t:"(a) PERSIANN",lab:"PERSIANN",l:41,w:249,s:[aRed,aBlue,aGreen],...top1},
 {t:"(b) RADAR",lab:"RADAR",l:322.5,w:249,s:[bRed,bBlue,bGreen],...top1},
 {t:"(c) PERSIANN",lab:"PERSIANN",l:606.7,w:249.3,s:[cRed,cBlue,cGreen],...top2},
 {t:"(d) RADAR",lab:"RADAR",l:888.3,w:249.3,s:[dRed,dBlue,dGreen],...top2},
 {t:"(e) PERSIANN",lab:"PERSIANN",l:42,w:249,s:[eRed,eBlue,eGreen],...bot1},
 {t:"(f) RADAR",lab:"RADAR",l:323.7,w:249.3,s:[fRed,fBlue,fGreen],...bot1},
 {t:"(g) PERSIANN",lab:"PERSIANN",l:605.7,w:249,s:[gRed,gBlue,gGreen],...bot2},
 {t:"(h) RADAR",lab:"RADAR",l:887.3,w:249,s:[hRed,hBlue,hGreen],...bot2}
];
const drawColors=[seriesColors[0],seriesColors[2],seriesColors[1]];
const expand=rows=>rows.flatMap(([x,...ys])=>ys.map(y=>[x,y]));
const svg=d3.select("#c");
titles.forEach(([s,x,y])=>svg.append("text").attr("x",x).attr("y",y).attr("text-anchor","middle").attr("font-weight","bold").attr("font-size",19.55).text(s));
panels.forEach((p,i)=>{
 const x=d3.scaleLinear().domain(p.xdom).range([p.l,p.l+p.w]);
 const y=d3.scaleLinear().domain(p.ydom).range(p.yr);
 const g=svg.append("g");
 const id="clip"+i;
 svg.append("clipPath").attr("id",id).append("rect").attr("x",p.l).attr("y",p.yr[1]).attr("width",p.w).attr("height",p.yr[0]-p.yr[1]);
 g.selectAll(".gx").data(p.gx).join("line").attr("x1",x).attr("x2",x).attr("y1",p.yr[0]).attr("y2",p.yr[1]).attr("stroke","#bdbdbd").attr("stroke-width",1.2);
 g.selectAll(".gy").data(p.yt).join("line").attr("y1",y).attr("y2",y).attr("x1",p.l).attr("x2",p.l+p.w).attr("stroke","#bdbdbd").attr("stroke-width",1.2);
 const plot=g.append("g").attr("clip-path",`url(#${id})`);
 p.s.forEach((rows,k)=>{
  plot.append("g").attr("fill",drawColors[k]).attr("fill-opacity",p.a).selectAll("circle").data(expand(rows)).join("circle").attr("cx",d=>x(d[0])).attr("cy",d=>y(d[1])).attr("r",p.a<1?2.8:2.6);
 });
 const m=Math.max(p.xdom[1],p.ydom[1]);
 plot.append("line").attr("x1",x(0)).attr("y1",y(0)).attr("x2",x(m)).attr("y2",y(m)).attr("stroke","#000").attr("stroke-width",1.1);
 g.append("rect").attr("x",p.l).attr("y",p.yr[1]).attr("width",p.w).attr("height",p.yr[0]-p.yr[1]).attr("fill","none").attr("stroke","#000").attr("stroke-width",1.5);
 const ax=g.append("g").attr("transform",`translate(0,${p.yr[0]})`).call(d3.axisBottom(x).tickValues(p.xt).tickFormat(d3.format("d")).tickSizeOuter(0).tickSize(5).tickPadding(2));
 const ay=g.append("g").attr("transform",`translate(${p.l},0)`).call(d3.axisLeft(y).tickValues(p.yt).tickFormat(d3.format("d")).tickSizeOuter(0).tickSize(5).tickPadding(3));
 [ax,ay].forEach(a=>{a.select(".domain").remove();a.selectAll("text").attr("font-size",11.8).attr("font-family",'"Liberation Sans"').attr("fill","#111");a.selectAll("line").attr("stroke","#000");});
 ay.selectAll("text").attr("transform",function(d){return `rotate(-90,-8,${y(d)})`;}).attr("x",-8).attr("text-anchor","middle").attr("dy","0.0em").attr("y",d=>y(d));
 ay.selectAll(".tick").attr("transform",null);
 ay.selectAll(".tick line").attr("y1",d=>y(d)).attr("y2",d=>y(d));
 g.append("text").attr("x",p.l+p.w/2+.5).attr("y",p.yr[0]+29).attr("text-anchor","middle").attr("font-size",10.5).text(p.lab+" rainfall (mm)");
 const cy=(p.yr[0]+p.yr[1])/2;
 g.append("text").attr("transform",`translate(${p.l-21},${cy+4}) rotate(-90)`).attr("text-anchor","middle").attr("font-size",10.5).text("Gauge rainfall (mm)");
 g.append("text").attr("x",p.l+p.w/2).attr("y",p.yr[1]-2).attr("text-anchor","middle").attr("font-weight","bold").attr("font-size",13).text(p.t);
});
const lx=d3.scaleOrdinal().domain(legendLabels).range([360,525,691]);
const leg=svg.append("g").selectAll("g").data(legendLabels).join("g").attr("transform",d=>`translate(${lx(d)},655)`);
leg.append("circle").attr("r",3.8).attr("fill",(d,i)=>seriesColors[i]);
leg.append("text").attr("x",12.5).attr("y",6.5).attr("font-size",18.2).text(d=>d);
</script></body></html>
